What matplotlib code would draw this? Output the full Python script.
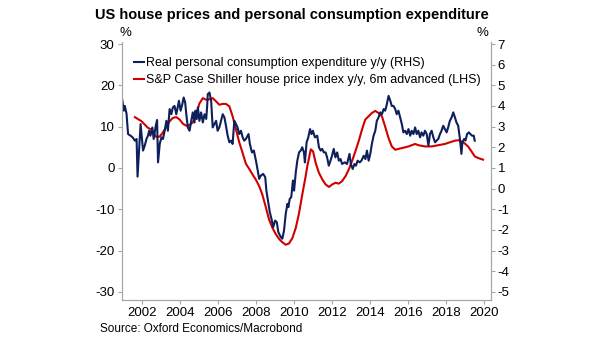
import numpy as np
import matplotlib.pyplot as plt

plt.rcParams['font.family'] = ['Liberation Sans', 'DejaVu Sans']
plt.rcParams['axes.unicode_minus'] = False

# real personal consumption expenditure y/y, % (right axis)
pce_years = [2000.90, 2001.02, 2001.07, 2001.16, 2001.24, 2001.37, 2001.48, 2001.60, 2001.69, 2001.74,
             2001.90, 2002.03, 2002.12, 2002.21, 2002.29, 2002.35, 2002.42, 2002.52, 2002.59, 2002.70,
             2002.77, 2002.82, 2002.91, 2003.00, 2003.08, 2003.17, 2003.26, 2003.34, 2003.43, 2003.52,
             2003.60, 2003.69, 2003.78, 2003.87, 2003.92, 2004.01, 2004.10, 2004.17, 2004.25, 2004.31,
             2004.39, 2004.48, 2004.57, 2004.65, 2004.74, 2004.79, 2004.86, 2004.92, 2005.00, 2005.09,
             2005.18, 2005.27, 2005.36, 2005.41, 2005.44, 2005.53, 2005.62, 2005.70, 2005.79, 2005.88,
             2005.96, 2006.05, 2006.14, 2006.23, 2006.32, 2006.40, 2006.49, 2006.58, 2006.67, 2006.75,
             2006.84, 2006.93, 2007.01, 2007.10, 2007.19, 2007.28, 2007.36, 2007.45, 2007.54, 2007.59,
             2007.66, 2007.77, 2007.87, 2007.98, 2008.06, 2008.15, 2008.24, 2008.36, 2008.47, 2008.53,
             2008.64, 2008.71, 2008.82, 2008.89, 2008.99, 2009.08, 2009.16, 2009.29, 2009.37, 2009.46,
             2009.55, 2009.64, 2009.69, 2009.76, 2009.84, 2009.93, 2009.99, 2010.08, 2010.16, 2010.25,
             2010.34, 2010.42, 2010.51, 2010.56, 2010.65, 2010.74, 2010.83, 2010.91, 2010.98, 2011.09,
             2011.21, 2011.30, 2011.39, 2011.47, 2011.56, 2011.65, 2011.73, 2011.82, 2011.91, 2011.99,
             2012.08, 2012.17, 2012.26, 2012.35, 2012.44, 2012.52, 2012.66, 2012.78, 2012.91, 2012.98,
             2013.08, 2013.17, 2013.25, 2013.34, 2013.45, 2013.54, 2013.66, 2013.75, 2013.83, 2013.92,
             2014.01, 2014.09, 2014.18, 2014.27, 2014.35, 2014.44, 2014.53, 2014.62, 2014.71, 2014.79,
             2014.88, 2014.97, 2015.06, 2015.14, 2015.23, 2015.32, 2015.40, 2015.49, 2015.58, 2015.67,
             2015.75, 2015.84, 2015.93, 2016.02, 2016.11, 2016.19, 2016.28, 2016.37, 2016.45, 2016.54,
             2016.63, 2016.71, 2016.80, 2016.89, 2016.98, 2017.07, 2017.15, 2017.24, 2017.33, 2017.42,
             2017.50, 2017.59, 2017.68, 2017.76, 2017.85, 2017.94, 2018.03, 2018.11, 2018.20, 2018.29,
             2018.38, 2018.47, 2018.55, 2018.64, 2018.73, 2018.81, 2018.86, 2018.95, 2019.02, 2019.11,
             2019.20, 2019.28, 2019.37, 2019.46, 2019.51]
pce_values = [4.49, 3.77, 4.00, 3.62, 2.64, 2.56, 2.48, 2.32, 2.40, 0.58,
              3.12, 1.84, 2.08, 2.40, 2.56, 2.80, 2.56, 2.96, 2.40, 3.04,
              3.32, 1.27, 2.16, 2.48, 2.40, 2.80, 3.28, 2.80, 3.85, 3.60,
              3.93, 4.00, 3.60, 4.00, 4.25, 3.77, 4.09, 4.41, 4.17, 3.60,
              2.96, 2.80, 3.28, 3.69, 3.20, 3.77, 3.37, 3.93, 3.28, 3.69,
              3.20, 3.60, 3.37, 4.00, 4.57, 4.65, 4.25, 2.96, 3.12, 3.28,
              2.80, 2.96, 3.28, 3.60, 3.44, 3.04, 2.56, 2.24, 2.32, 2.16,
              3.28, 3.12, 2.96, 2.64, 2.80, 2.48, 2.32, 2.40, 2.56, 2.64,
              2.16, 1.75, 1.84, 1.35, 0.95, 0.47, 0.63, 0.71, 0.55, -0.10,
              -0.74, -1.14, -1.55, -1.87, -1.55, -1.63, -2.11, -2.35, -2.43, -2.03,
              -1.22, -0.74, -0.90, -0.50, -0.42, 0.39, -0.10, 0.79, 1.35, 1.75,
              1.84, 2.00, 1.75, 1.27, 2.24, 2.48, 2.88, 2.64, 2.80, 2.48,
              2.56, 2.00, 1.84, 1.92, 1.75, 1.75, 1.51, 1.11, 1.35, 1.59,
              1.92, 1.51, 1.75, 1.35, 1.43, 1.19, 1.27, 1.19, 1.68, 1.19,
              0.95, 1.19, 1.11, 1.35, 1.27, 1.35, 1.59, 1.43, 1.84, 1.35,
              1.70, 2.16, 2.56, 2.80, 3.28, 3.44, 3.69, 3.60, 3.85, 3.77,
              4.09, 4.49, 4.25, 4.00, 4.00, 3.85, 3.60, 3.77, 3.44, 3.12,
              2.72, 2.80, 2.64, 2.88, 2.56, 2.80, 2.64, 2.96, 2.64, 2.80,
              2.48, 2.72, 2.56, 2.80, 2.64, 2.08, 2.64, 2.80, 2.48, 2.24,
              2.32, 2.40, 2.64, 2.80, 3.04, 2.88, 2.72, 2.96, 3.28, 3.44,
              3.69, 3.44, 3.20, 3.04, 2.40, 1.68, 2.24, 2.40, 2.32, 2.64,
              2.72, 2.64, 2.56, 2.56, 2.32]

# S&P Case Shiller house price index y/y, 6m advanced, % (left axis)
hpi_years = [2001.60, 2001.77, 2001.95, 2002.12, 2002.29, 2002.47, 2002.64, 2002.73, 2002.91, 2003.08,
             2003.26, 2003.43, 2003.60, 2003.78, 2003.96, 2004.13, 2004.31, 2004.48, 2004.65, 2004.79,
             2004.92, 2005.00, 2005.18, 2005.36, 2005.53, 2005.70, 2005.88, 2006.05, 2006.23, 2006.40,
             2006.58, 2006.75, 2006.93, 2007.10, 2007.28, 2007.45, 2007.62, 2007.80, 2007.97, 2008.15,
             2008.32, 2008.50, 2008.67, 2008.85, 2009.02, 2009.20, 2009.37, 2009.55, 2009.72, 2009.90,
             2010.08, 2010.25, 2010.42, 2010.60, 2010.69, 2010.78, 2010.87, 2010.99, 2011.13, 2011.30,
             2011.48, 2011.65, 2011.83, 2012.00, 2012.17, 2012.35, 2012.52, 2012.70, 2012.87, 2013.04,
             2013.22, 2013.39, 2013.57, 2013.74, 2013.92, 2014.09, 2014.27, 2014.44, 2014.62, 2014.79,
             2014.97, 2015.14, 2015.32, 2015.49, 2015.67, 2016.02, 2016.37, 2016.54, 2016.89, 2017.24,
             2017.59, 2017.94, 2018.20, 2018.47, 2018.64, 2018.81, 2018.99, 2019.16, 2019.34, 2019.51,
             2019.69, 2019.95]
hpi_values = [12.3, 11.8, 11.3, 10.5, 9.7, 9.3, 8.0, 7.5, 7.6, 8.6,
              10.0, 11.3, 12.1, 12.3, 11.7, 10.7, 10.2, 10.4, 11.0, 12.4,
              14.3, 15.6, 16.9, 16.5, 16.6, 16.9, 16.1, 15.3, 15.5, 15.5,
              14.9, 12.5, 9.3, 6.2, 3.6, 1.0, -0.2, -1.6, -2.8, -4.4,
              -6.5, -9.5, -12.5, -14.5, -16.0, -17.2, -18.0, -18.6, -18.3, -17.0,
              -14.5, -11.0, -6.5, -2.0, 0.5, 2.5, 4.5, 4.0, 1.2, -1.2,
              -2.8, -4.0, -4.6, -4.0, -3.6, -3.8, -3.2, -2.0, -0.4, 1.6,
              4.0, 6.4, 9.3, 11.7, 12.5, 13.3, 13.8, 13.3, 12.5, 10.0,
              7.2, 5.2, 4.4, 4.6, 4.8, 5.2, 5.8, 5.5, 5.2, 5.2,
              5.5, 5.8, 6.2, 6.6, 6.7, 6.4, 5.9, 5.2, 4.0, 2.8,
              2.4, 2.0]

year_ticks = list(range(2002, 2021, 2))
left_ticks = [-30, -20, -10, 0, 10, 20, 30]
right_ticks = [-5, -4, -3, -2, -1, 0, 1, 2, 3, 4, 5, 6, 7]

navy = '#0d1f5c'
red = '#d10000'
grey = '#a6a6a6'

fig = plt.figure(figsize=(6.05, 3.41), dpi=100)
ax = fig.add_axes([0.201, 0.120, 0.610, 0.757])
ax2 = ax.twinx()

l2, = ax.plot(hpi_years, hpi_values, color=red, lw=1.5,
              label='S&P Case Shiller house price index y/y, 6m advanced (LHS)')
l1, = ax2.plot(pce_years, pce_values, color=navy, lw=1.5,
               label='Real personal consumption expenditure y/y (RHS)')

# left scale = 5 * right scale - 5
ax.set_ylim(-32, 30.5)
ax2.set_ylim((-32 + 5) / 5, (30.5 + 5) / 5)
ax.set_xlim(2000.9, 2020.35)

ax.set_xticks(year_ticks)
ax.set_xticklabels([str(y) for y in year_ticks])
ax.set_yticks(left_ticks)
ax2.set_yticks(right_ticks)

for a in (ax, ax2):
    a.spines['top'].set_visible(False)
    for s in ('left', 'right', 'bottom'):
        a.spines[s].set_color(grey)
    a.tick_params(colors=grey, labelcolor='black', labelsize=9.5, length=3, width=0.8)
ax.tick_params(axis='y', pad=2)
ax2.tick_params(axis='y', pad=2)
ax.tick_params(axis='x', pad=2)

leg = ax.legend(handles=[l1, l2], loc='upper left', bbox_to_anchor=(0.02, 0.96),
                frameon=False, fontsize=9, handlelength=0.8, handletextpad=0.2,
                labelspacing=0.4, borderaxespad=0)

fig.text(0.483, 0.955, 'US house prices and personal consumption expenditure',
         ha='center', va='center', fontsize=10.5, fontweight='bold')
fig.text(0.208, 0.902, '%', ha='center', va='center', fontsize=9.5)
fig.text(0.798, 0.902, '%', ha='center', va='center', fontsize=9.5)
fig.text(0.165, 0.035, 'Source: Oxford Economics/Macrobond', ha='left', va='center', fontsize=8.5)

fig.savefig('out.png', dpi=100)
